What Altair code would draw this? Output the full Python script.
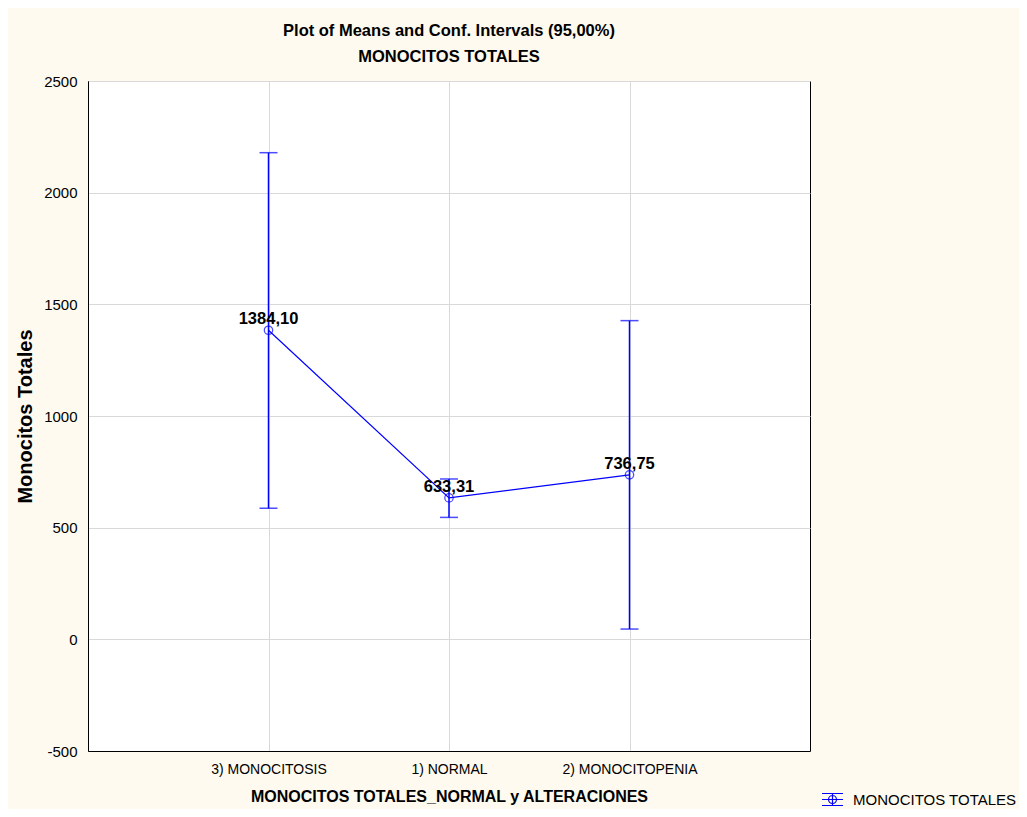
import altair as alt
import pandas as pd

categories = ["3) MONOCITOSIS", "1) NORMAL", "2) MONOCITOPENIA"]
means = [1384.10, 633.31, 736.75]
lower = [587, 546, 46]
upper = [2179, 718, 1427]
labels = ["1384,10", "633,31", "736,75"]
series = ["MONOCITOS TOTALES"] * 3
y_ticks = [-500, 0, 500, 1000, 1500, 2000, 2500]

df = pd.DataFrame({"cat": categories, "mean": means, "lo": lower, "hi": upper,
                   "label": labels, "series": series})

FONT = "Liberation Sans"
BLUE = "#0000FF"

x_enc = alt.X("cat:N", sort=categories, scale=alt.Scale(type="point", padding=1),
              axis=alt.Axis(title="MONOCITOS TOTALES_NORMAL y ALTERACIONES", labelAngle=0,
                            grid=True, ticks=False, labelPadding=11, titlePadding=12,
                            labelFontSize=14, titleFontSize=16, titleFontWeight="bold"))
y_scale = alt.Scale(domain=[-500, 2500], nice=False, zero=False)
y_axis = alt.Axis(title="Monocitos Totales", values=y_ticks, labelExpr="toString(datum.value)",
                  grid=True, ticks=False,
                  labelPadding=11, titlePadding=8, labelFontSize=15, titleFontSize=20,
                  titleFontWeight="bold")

base = alt.Chart(df)

rule = base.mark_rule(color=BLUE, strokeWidth=1.5).encode(
    x=x_enc, y=alt.Y("lo:Q", scale=y_scale, axis=y_axis), y2="hi:Q")
tick_lo = base.mark_tick(color=BLUE, size=18, thickness=1.5, orient="horizontal").encode(
    x=alt.X("cat:N", sort=categories), y=alt.Y("lo:Q", scale=y_scale))
tick_hi = base.mark_tick(color=BLUE, size=18, thickness=1.5, orient="horizontal").encode(
    x=alt.X("cat:N", sort=categories), y=alt.Y("hi:Q", scale=y_scale))

line = base.mark_line(strokeWidth=1.2).encode(
    x=alt.X("cat:N", sort=categories), y=alt.Y("mean:Q", scale=y_scale),
    color=alt.Color("series:N", scale=alt.Scale(range=[BLUE]),
                    legend=alt.Legend(title=None, orient="none", legendX=733, legendY=707,
                                      symbolType="M-1,-0.57H1M-1,0.57H1M-1,0H1M0,-0.57V0.57M0.38,0A0.38,0.38 0 1,1 -0.38,0A0.38,0.38 0 1,1 0.38,0",
                                      symbolSize=441, symbolStrokeWidth=1.2,
                                      symbolStrokeColor=BLUE, symbolFillColor="transparent",
                                      labelFontSize=15, labelFont=FONT, labelOffset=9,
                                      labelLimit=400, labelColor="black", padding=0)))
points = base.mark_point(shape="circle", filled=False, color=BLUE, size=70, strokeWidth=1.3).encode(
    x=alt.X("cat:N", sort=categories), y=alt.Y("mean:Q", scale=y_scale))
text = base.mark_text(font=FONT, fontSize=16.5, fontWeight="bold", baseline="bottom", dy=-3,
                      color="black").encode(
    x=alt.X("cat:N", sort=categories), y=alt.Y("mean:Q", scale=y_scale), text="label:N")

chart = alt.layer(rule, tick_lo, tick_hi, line, points, text).properties(
    width=722, height=670,
    title=alt.TitleParams(text=["Plot of Means and Conf. Intervals (95,00%)", "MONOCITOS TOTALES"],
                          font=FONT, fontSize=16.5, fontWeight="bold", anchor="middle",
                          lineHeight=26, offset=9, color="black"),
    autosize=alt.AutoSizeParams(type="none"),
    padding={"left": 80, "top": 73, "right": 209, "bottom": 58},
    background="#FFFAEF",
).configure_view(stroke="black", strokeWidth=1, fill="white").configure_axis(
    labelFont=FONT, titleFont=FONT, labelColor="black", titleColor="black",
    domainColor="black", gridColor="#D9D9D9", gridWidth=1
)

chart.save("out.html", embed_options={"renderer": "svg", "actions": False})
